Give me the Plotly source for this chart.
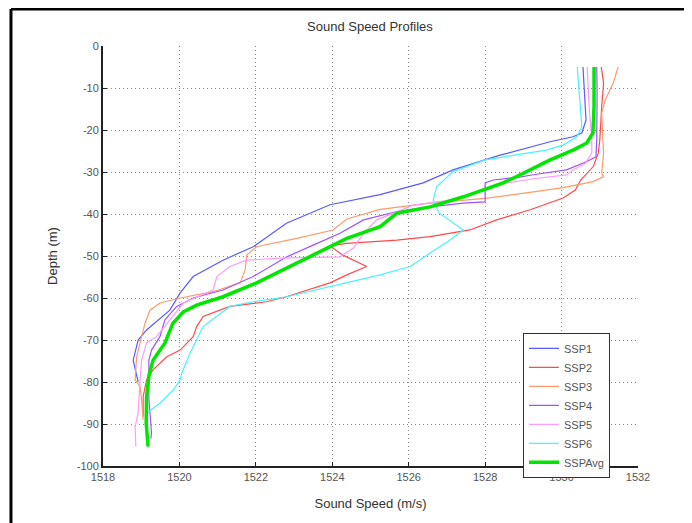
import plotly.graph_objects as go

# Sound speed (m/s) and depth (m) for each profile
ssp1_speed = [1530.56, 1530.64, 1530.53, 1530.3, 1529.7, 1528.39, 1527.16, 1526.38, 1525.25, 1523.94, 1522.8, 1521.93, 1521.14, 1520.36, 1520.02, 1519.75, 1519.14, 1518.92, 1518.79, 1518.88, 1518.92]
ssp1_depth = [-5, -17.6, -20.7, -21.6, -22.8, -26, -29.5, -32.6, -35.4, -37.8, -42.2, -47.8, -51, -54.9, -58.8, -62.9, -67.6, -70, -74.8, -78, -80]

ssp2_speed = [1531.04, 1531.1, 1531.05, 1531.0, 1530.96, 1530.83, 1530.5, 1530.36, 1530.04, 1529.18, 1528.3, 1527.6, 1526.56, 1525.69, 1524.38, 1523.94, 1524.28, 1524.9, 1524.38, 1523.94, 1522.8, 1522.28, 1521.32, 1520.62, 1520.45, 1520.36, 1520.02, 1519.67, 1519.31, 1519.14, 1519.05, 1519.05]
ssp2_depth = [-5, -8.9, -14.4, -22.4, -25.5, -28.7, -31.9, -34.3, -36.2, -39, -41.4, -43.8, -45.4, -46.2, -47, -47.6, -49.8, -52.5, -54.5, -56.4, -59.7, -60.9, -62, -64.4, -66.8, -69.2, -72.4, -74, -77.1, -79.5, -83.5, -88.3]

ssp3_speed = [1531.48, 1531.35, 1531.14, 1531.05, 1531.08, 1531.1, 1531.05, 1531.1, 1530.83, 1530.04, 1529.22, 1528.0, 1526.56, 1525.25, 1524.38, 1524.02, 1523.07, 1522.02, 1521.76, 1521.72, 1521.59, 1520.88, 1520.02, 1519.49, 1519.23, 1519.1, 1519.01, 1518.88, 1518.84, 1518.97, 1519.01, 1519.05]
ssp3_depth = [-5, -8.9, -12.9, -16, -22.4, -25.5, -30.3, -31.1, -32.3, -33.7, -34.8, -36.3, -37.4, -38.9, -41.2, -43.8, -45.8, -47.8, -49.8, -53.3, -56.4, -58.5, -60, -61.2, -62.9, -66, -69.2, -74, -79.5, -81.1, -84.3, -89]

ssp4_speed = [1530.92, 1530.93, 1530.92, 1530.9, 1530.66, 1530.13, 1529.3, 1528.9, 1528.21, 1528.0, 1528.0, 1527.43, 1526.56, 1525.69, 1524.82, 1524.2, 1523.5, 1522.81, 1521.93, 1521.14, 1520.36, 1519.93, 1519.62, 1519.49, 1519.27, 1519.2, 1519.2, 1519.27, 1519.25]
ssp4_depth = [-5, -11.2, -22.4, -26.4, -27.5, -29.5, -30.6, -31.2, -31.9, -32.6, -37.1, -37.4, -38.3, -39.4, -41.4, -44.6, -47.4, -50.2, -54.9, -58.1, -60, -62, -65.2, -69.2, -72.4, -74.8, -84, -92.2, -93.5]

ssp5_speed = [1530.67, 1530.72, 1530.79, 1530.79, 1530.62, 1530.3, 1530.14, 1529.26, 1528.39, 1528.04, 1527.08, 1526.12, 1525.16, 1524.82, 1524.55, 1524.2, 1522.63, 1521.76, 1521.32, 1520.98, 1520.88, 1520.1, 1519.75, 1519.4, 1519.14, 1519.01, 1518.97, 1518.92, 1518.84, 1518.86]
ssp5_depth = [-5, -14.4, -22.4, -25.5, -27.9, -29.5, -30.7, -31.6, -32.9, -34.3, -36.7, -37.9, -41.4, -44.6, -48.1, -50.2, -50.5, -51, -52.5, -54.9, -58.1, -61.2, -65.2, -69.2, -70.7, -74.8, -79.5, -87.4, -90.6, -95.4]

ssp6_speed = [1530.41, 1530.53, 1530.4, 1530.04, 1529.6, 1528.0, 1527.16, 1526.73, 1526.64, 1526.8, 1527.43, 1527.08, 1526.56, 1526.04, 1525.25, 1523.94, 1522.81, 1521.93, 1521.32, 1520.62, 1520.28, 1520.06, 1520.02, 1519.84, 1519.5, 1519.14]
ssp6_depth = [-5, -19.2, -21.6, -23.6, -24.8, -27.1, -29.9, -33.5, -36.7, -39.8, -43.8, -46.2, -49.3, -52.5, -54.5, -57.2, -59.7, -60.9, -62, -66.8, -73.1, -77.9, -79.5, -81.9, -85, -87.4]

avg_speed = [1530.85, 1530.85, 1530.82, 1530.66, 1530.3, 1529.7, 1529.0, 1528.47, 1527.43, 1526.56, 1525.69, 1525.25, 1524.38, 1523.94, 1522.9, 1522.02, 1521.14, 1520.45, 1520.1, 1519.83, 1519.62, 1519.31, 1519.2, 1519.14, 1519.13, 1519.18]
avg_depth = [-5, -14.4, -20.7, -23.1, -24.8, -27.1, -30.3, -32.6, -35.9, -38.3, -39.8, -43, -45.8, -47.8, -52.5, -56.4, -59.7, -61.7, -63.3, -66, -70.7, -74.8, -78.5, -83.5, -89.8, -95.4]

series_names = ["SSP1", "SSP2", "SSP3", "SSP4", "SSP5", "SSP6", "SSPAvg"]
x_ticks = [1518, 1520, 1522, 1524, 1526, 1528, 1530, 1532]
y_ticks = [0, -10, -20, -30, -40, -50, -60, -70, -80, -90, -100]

speeds = [ssp1_speed, ssp2_speed, ssp3_speed, ssp4_speed, ssp5_speed, ssp6_speed, avg_speed]
depths = [ssp1_depth, ssp2_depth, ssp3_depth, ssp4_depth, ssp5_depth, ssp6_depth, avg_depth]
colors = ["#5a5aff", "#ff4a4a", "#ff9a6a", "#9a55ff", "#ff9aff", "#44f4ff", "#00e600"]
widths = [1.2, 1.2, 1.2, 1.2, 1.2, 1.2, 3.5]

fig = go.Figure()
for name, xs, ys, c, w in zip(series_names, speeds, depths, colors, widths):
    fig.add_trace(go.Scatter(x=xs, y=ys, mode="lines", name=name,
                             line=dict(color=c, width=w)))

font_family = "Liberation Sans, Arial, sans-serif"
grid_dash = "1px,3px"
fig.update_layout(
    width=692, height=523,
    margin=dict(l=95, r=62, t=38, b=65),
    paper_bgcolor="white", plot_bgcolor="white",
    title=dict(text="Sound Speed Profiles", x=0.523, xanchor="center", y=0.964, yanchor="middle",
               font=dict(family=font_family, size=13, color="#333")),
    font=dict(family=font_family, size=11, color="#555"),
    xaxis=dict(range=[1518, 1532], tickvals=x_ticks, ticktext=[str(v) for v in x_ticks],
               showgrid=True, gridcolor="#8a8a8a", griddash=grid_dash, gridwidth=1,
               showline=True, linecolor="#222", linewidth=2, mirror=False,
               ticks="inside", ticklen=4, tickcolor="#222", zeroline=False,
               title=dict(text="Sound Speed (m/s)", font=dict(size=13, color="#333"), standoff=17)),
    yaxis=dict(range=[-100, 0], tickvals=y_ticks, ticktext=[str(v) for v in y_ticks],
               showgrid=True, gridcolor="#8a8a8a", griddash=grid_dash, gridwidth=1,
               showline=True, linecolor="#222", linewidth=2, mirror=False,
               ticks="inside", ticklen=4, tickcolor="#222", zeroline=False,
               title=dict(text="Depth (m)", font=dict(size=13, color="#333"), standoff=16)),
    legend=dict(x=0.785, y=0.317, xanchor="left", yanchor="top",
                bgcolor="white", bordercolor="#333", borderwidth=1,
                font=dict(size=11, color="#555"), tracegroupgap=0, itemwidth=30),
    showlegend=True,
)

# outer frame lines (left and top)
fig.add_shape(type="line", xref="paper", yref="paper", x0=-0.172, x1=-0.172, y0=-0.16, y1=1.088,
              line=dict(color="black", width=3))
fig.add_shape(type="line", xref="paper", yref="paper", x0=-0.172, x1=1.10, y0=1.088, y1=1.088,
              line=dict(color="black", width=3))

fig.write_html("out.html")
